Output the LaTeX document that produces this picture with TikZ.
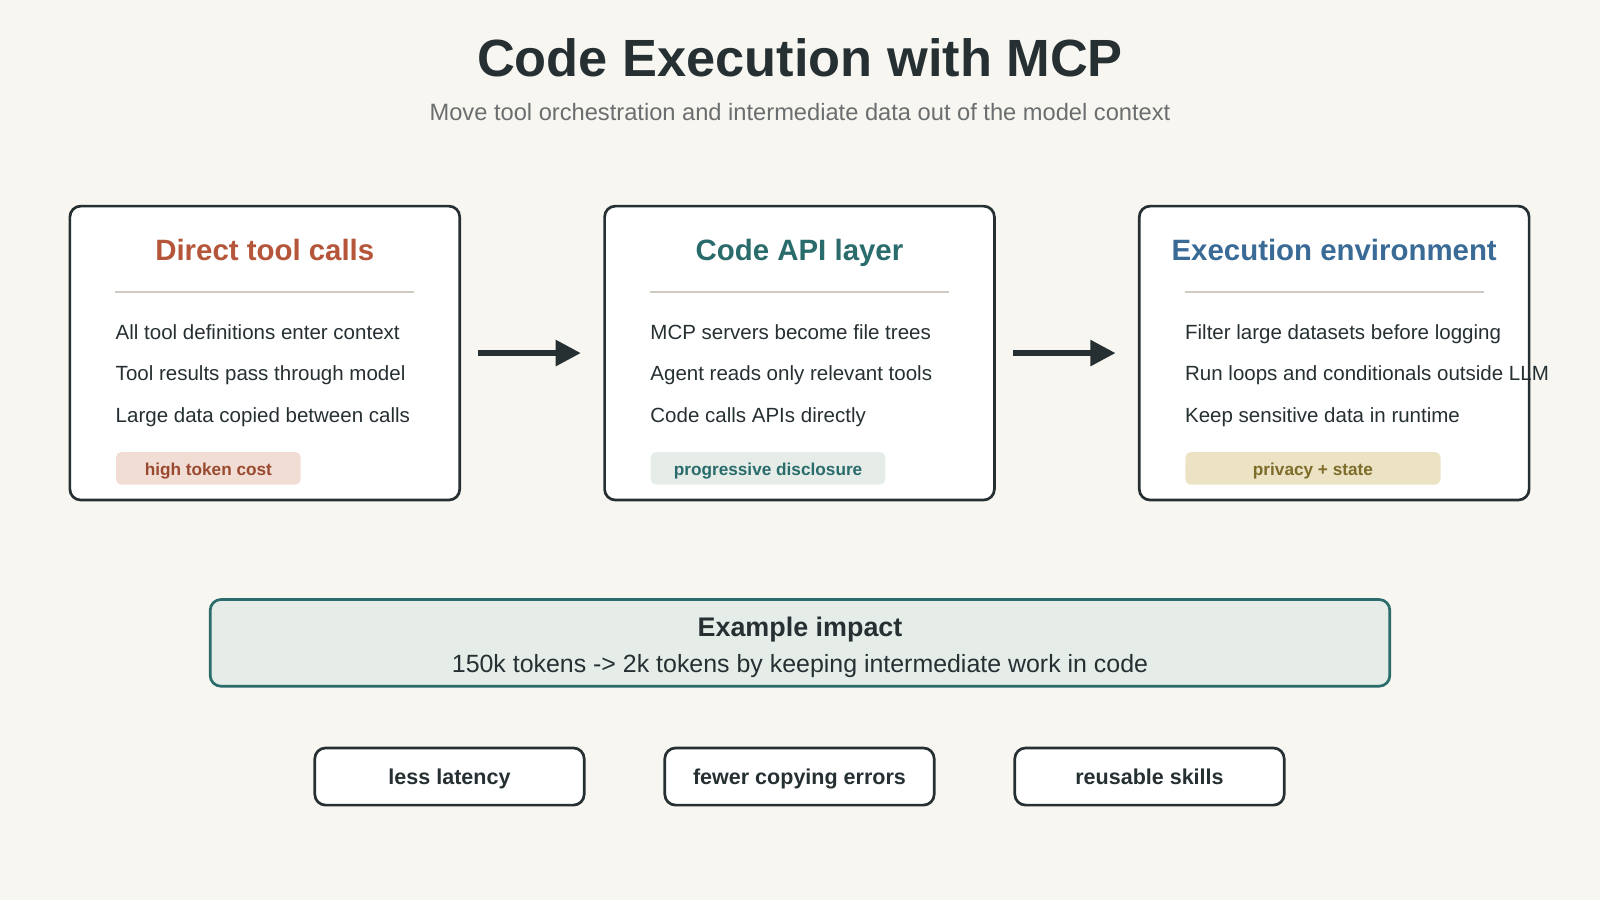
\documentclass[tikz,border=0pt]{standalone}
\usepackage{fontspec}
\setmainfont{Liberation Sans}
\usetikzlibrary{arrows.meta,positioning}
\definecolor{bgc}{HTML}{F7F6F1}
\definecolor{ink}{HTML}{263033}
\definecolor{greyt}{HTML}{6A6E6E}
\definecolor{rust}{HTML}{B5563A}
\definecolor{teal}{HTML}{2A6B6B}
\definecolor{steel}{HTML}{3A6A96}
\definecolor{rustbg}{HTML}{F1DDD3}
\definecolor{tealbg}{HTML}{E6EDE8}
\definecolor{olivebg}{HTML}{EBE3C4}
\definecolor{olive}{HTML}{7D6C2A}
\definecolor{rulec}{HTML}{CFCBC4}
\tikzset{
  panel/.style={draw=ink, line width=0.75pt, rounded corners=3pt, fill=white, minimum width=3.82cm, minimum height=2.88cm},
  head/.style={font=\fontsize{8.2}{10}\selectfont\bfseries, text height=6pt, text depth=1.8pt},
  item/.style={anchor=west, text=ink, font=\fontsize{5.72}{7}\selectfont, text height=4.2pt, text depth=1.2pt},
  tag/.style={anchor=west, rounded corners=1.5pt, minimum height=0.32cm, inner sep=2pt, font=\fontsize{4.8}{6}\selectfont\bfseries, text height=3.5pt, text depth=1pt},
  pill/.style={draw=ink, line width=0.75pt, rounded corners=3pt, fill=white, minimum width=2.64cm, minimum height=0.56cm, inner sep=2pt, text=ink, font=\fontsize{6}{7}\selectfont\bfseries, text height=4.4pt, text depth=1.3pt},
  flow/.style={-{Triangle[length=7pt,width=7pt]}, draw=ink, line width=1.5pt}
}
\begin{document}
\begin{tikzpicture}
\useasboundingbox[fill=bgc] (0,0) rectangle (15.68,8.82);
% title
\node[text=ink, font=\fontsize{14.6}{18}\selectfont\bfseries] (title) at (7.84,8.25) {Code Execution with MCP};
\node[text=greyt, font=\fontsize{6.6}{8}\selectfont] (sub) at (7.84,7.72) {Move tool orchestration and intermediate data out of the model context};

% panels
\node[panel] (direct) at (2.595,5.36) {};
\node[panel] (api) at (7.835,5.36) {};
\node[panel] (exec) at (13.075,5.36) {};

% direct tool calls
\node[head, text=rust] (dh) at (2.595,6.34) {Direct tool calls};
\draw[rulec] (1.13,5.96) -- (4.06,5.96);
\node[item] (d1) at (1.01,5.55) {All tool definitions enter context};
\node[item] (d2) at (1.01,5.14) {Tool results pass through model};
\node[item] (d3) at (1.01,4.73) {Large data copied between calls};
\node[tag, fill=rustbg, text=rust!85!black, minimum width=1.81cm] (dt) at (1.13,4.23) {\raisebox{-0.8pt}{high token cost}};

% code api layer
\node[head, text=teal] (ah) at (7.835,6.34) {Code API layer};
\draw[rulec] (6.37,5.96) -- (9.30,5.96);
\node[item] (a1) at (6.25,5.55) {MCP servers become file trees};
\node[item] (a2) at (6.25,5.14) {Agent reads only relevant tools};
\node[item] (a3) at (6.25,4.73) {Code calls APIs directly};
\node[tag, fill=tealbg, text=teal, minimum width=2.30cm] (at) at (6.37,4.23) {\raisebox{-0.8pt}{progressive disclosure}};

% execution environment
\node[head, text=steel] (eh) at (13.075,6.34) {Execution environment};
\draw[rulec] (11.61,5.96) -- (14.54,5.96);
\node[item] (e1) at (11.49,5.55) {Filter large datasets before logging};
\node[item] (e2) at (11.49,5.14) {Run loops and conditionals outside LLM};
\node[item] (e3) at (11.49,4.73) {Keep sensitive data in runtime};
\node[tag, fill=olivebg, text=olive, minimum width=2.50cm] (et) at (11.61,4.23) {\raisebox{-0.8pt}{privacy + state}};

% arrows
\coordinate (a1s) at ([xshift=0.17cm]direct.east);
\coordinate (a1e) at ([xshift=-0.22cm]api.west);
\coordinate (a2s) at ([xshift=0.17cm]api.east);
\coordinate (a2e) at ([xshift=-0.22cm]exec.west);
\draw[flow] (a1s) -- (a1e);
\draw[flow] (a2s) -- (a2e);

% impact
\node[draw=teal, line width=0.75pt, rounded corners=3pt, fill=tealbg, minimum width=11.56cm, minimum height=0.85cm] (impact) at (7.84,2.52) {};
\node[text=ink, font=\fontsize{7.5}{9}\selectfont\bfseries] (ih) at (7.84,2.65) {Example impact};
\node[text=ink, font=\fontsize{6.95}{9}\selectfont] (it) at (7.84,2.29) {150k tokens -> 2k tokens by keeping intermediate work in code};

% benefits
\node[pill] (b1) at (4.405,1.21) {\raisebox{-0.8pt}{less latency}};
\node[pill] (b2) at (7.835,1.21) {\raisebox{-0.8pt}{fewer copying errors}};
\node[pill] (b3) at (11.265,1.21) {\raisebox{-0.8pt}{reusable skills}};
\end{tikzpicture}
\end{document}
